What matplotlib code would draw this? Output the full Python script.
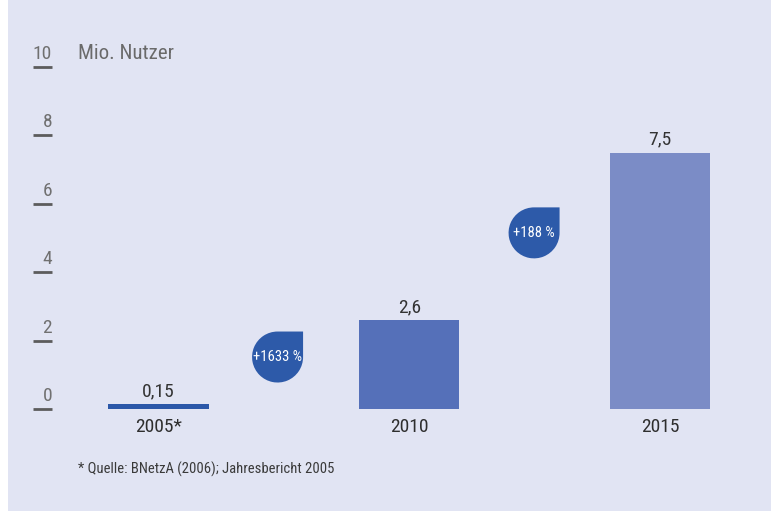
import numpy as np
import matplotlib
matplotlib.use("Agg")
import matplotlib.pyplot as plt
from matplotlib.path import Path
from matplotlib.patches import PathPatch, Rectangle
from matplotlib.transforms import Affine2D, ScaledTranslation

plt.rcParams["font.family"] = ["Roboto Condensed", "DejaVu Sans"]

# Data
years = ["2005*", "2010", "2015"]
users = [0.15, 2.6, 7.5]
value_labels = ["0,15", "2,6", "7,5"]
bar_colors = ["#2b57a8", "#5570b9", "#7b8cc6"]
growth_labels = ["+1633 %", "+188 %"]
growth_pos = [(0.475, 1.52), (1.498, 5.15)]
y_ticks = [0, 2, 4, 6, 8, 10]

bg = "#e1e4f3"
badge_color = "#2d5aa9"

fig = plt.figure(figsize=(7.71, 5.11), dpi=100, facecolor=bg)
ax = fig.add_axes([52 / 771, 0, 1 - 52 / 771, 1], facecolor=bg)

# white strip on the left edge
fig.patches.append(Rectangle((0, 0), 8 / 771, 1, transform=fig.transFigure,
                             facecolor="white", edgecolor="none", zorder=-1))

x = np.arange(len(years))
ax.bar(x, users, width=0.4, color=bar_colors, zorder=2)

ax.set_xlim(-0.4247, 2.443)
ax.set_ylim(-2.982, 11.959)

for s in ["top", "right", "left"]:
    ax.spines[s].set_visible(False)
ax.spines["bottom"].set_position(("data", 0))
ax.spines["bottom"].set_visible(False)

# x axis: year labels under the bars
ax.set_xticks(x, years)
ax.tick_params(axis="x", length=0, pad=6.5, labelsize=14, labelcolor="#2e2e2e")

# y axis: short dashes, labels sit above them
ax.set_yticks(y_ticks)
ax.set_yticklabels([])
ax.tick_params(axis="y", direction="out", length=13.7, width=2.0, color="#5c5c5c")
ytrans = ax.get_yaxis_transform()
for v in y_ticks:
    ax.annotate(str(v), xy=(0, v), xycoords=ytrans, xytext=(0, 8),
                textcoords="offset pixels", ha="right", va="baseline",
                fontsize=14, color="#707070")

ax.annotate("Mio. Nutzer", xy=(0, 10), xycoords=ytrans, xytext=(26, 8),
            textcoords="offset pixels", ha="left", va="baseline",
            fontsize=15, color="#6a6a6a")

# values above bars
for xi, v, lab in zip(x, users, value_labels):
    ax.annotate(lab, xy=(xi, v), xytext=(0, 8), textcoords="offset pixels",
                ha="center", va="baseline", fontsize=14, color="#333333")

# growth badges: circle with a square top-right corner
arc = Path.arc(90, 360)
verts = np.concatenate([[[1, 0], [1, 1], [0, 1]], arc.vertices[1:], [[1, 0]]])
codes = ([Path.MOVETO, Path.LINETO, Path.LINETO]
         + list(arc.codes[1:]) + [Path.CLOSEPOLY])
drop = Path(verts, codes)
r = 25.5
for (bx, by), lab in zip(growth_pos, growth_labels):
    tr = (Affine2D().scale(r / 100) + fig.dpi_scale_trans
          + ScaledTranslation(bx, by, ax.transData))
    ax.add_patch(PathPatch(drop, transform=tr, facecolor=badge_color,
                           edgecolor="none", zorder=3))
    ax.text(bx, by, lab, ha="center", va="center", fontsize=10.5,
            color="white", zorder=4)

fig.text(78 / 771, 1 - 474 / 511, "* Quelle: BNetzA (2006); Jahresbericht 2005",
         ha="left", va="baseline", fontsize=10.5, color="#3a3a3a")

fig.savefig("out.png", dpi=100, facecolor=bg)
